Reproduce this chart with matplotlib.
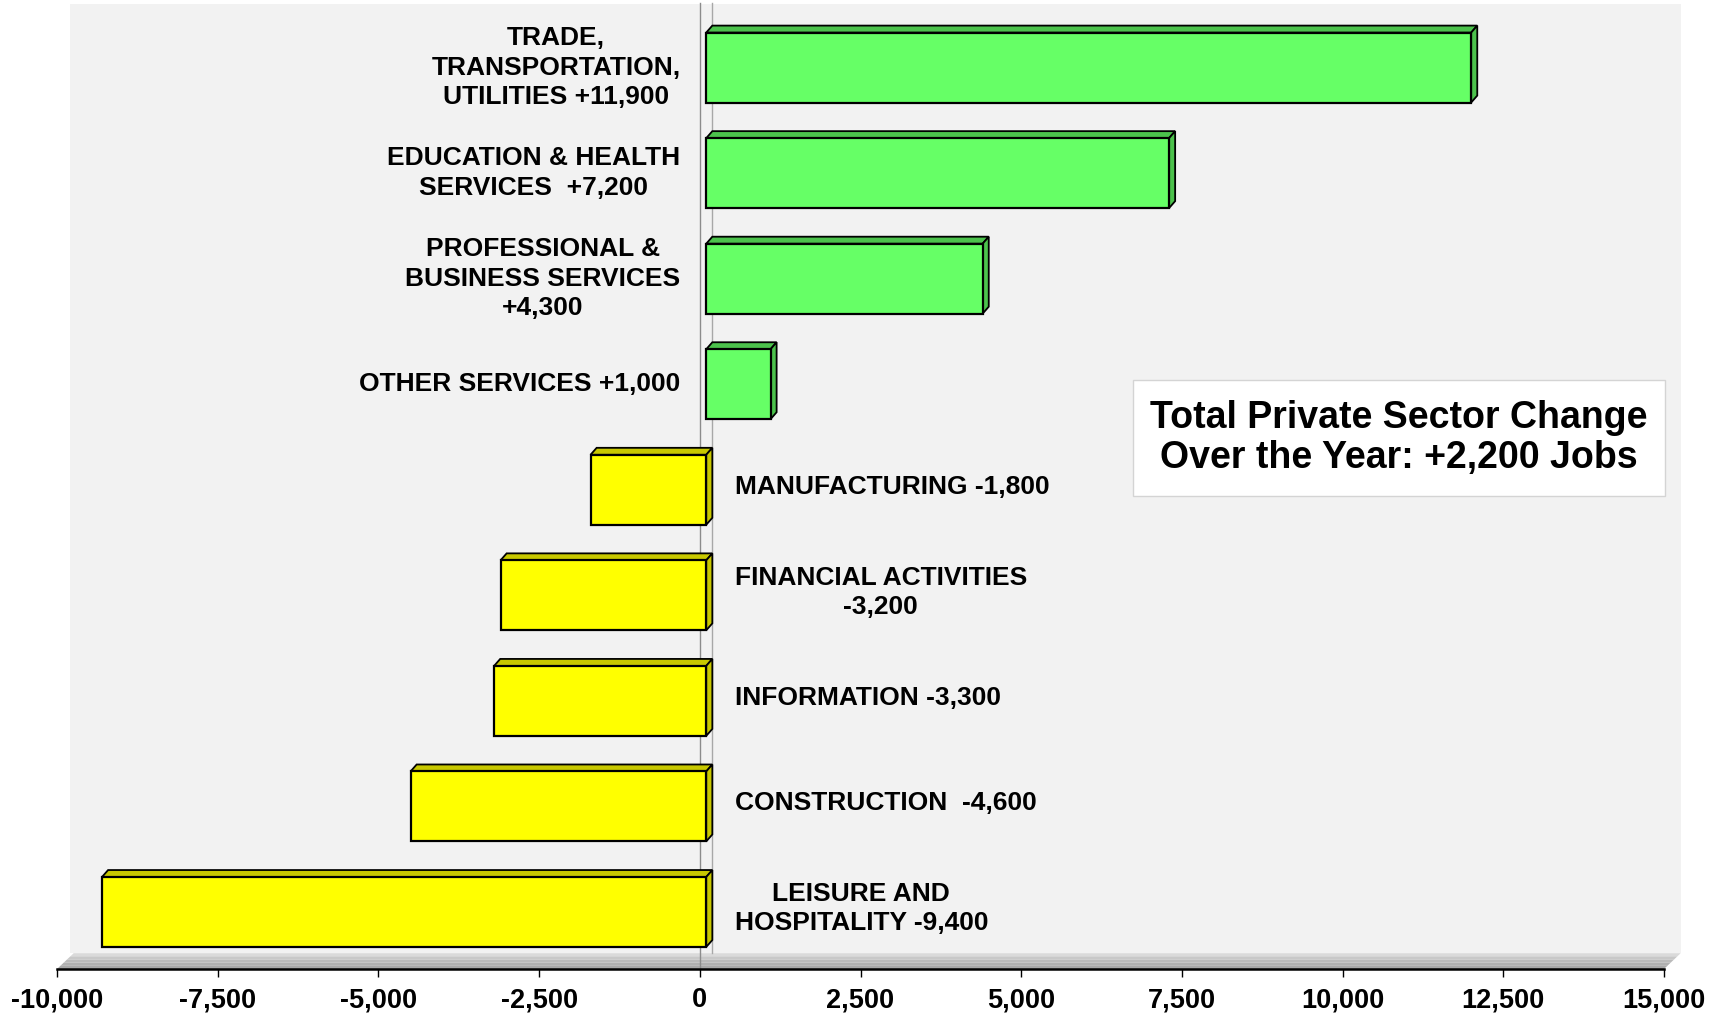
import matplotlib.pyplot as plt
from matplotlib.patches import Polygon, Rectangle
from matplotlib.ticker import FuncFormatter

# Over-the-year change in private sector jobs, top to bottom
sectors = [
    "TRADE,\nTRANSPORTATION,\nUTILITIES +11,900",
    "EDUCATION & HEALTH\nSERVICES  +7,200",
    "PROFESSIONAL &\nBUSINESS SERVICES\n+4,300",
    "OTHER SERVICES +1,000",
    "MANUFACTURING -1,800",
    "FINANCIAL ACTIVITIES\n-3,200",
    "INFORMATION -3,300",
    "CONSTRUCTION  -4,600",
    "LEISURE AND\nHOSPITALITY -9,400",
]
changes = [11900, 7200, 4300, 1000, -1800, -3200, -3300, -4600, -9400]
x_ticks = [-10000, -7500, -5000, -2500, 0, 2500, 5000, 7500, 10000, 12500, 15000]
total_note = "Total Private Sector Change\nOver the Year: +2,200 Jobs"

plt.rcParams["font.family"] = ["Liberation Sans", "DejaVu Sans"]
plt.rcParams["font.weight"] = "bold"

W, H = 1718, 1016
fig = plt.figure(figsize=(W / 100, H / 100), dpi=100)
fig.patch.set_facecolor("white")

# axes spans the x axis line exactly (-10,000 .. 15,000)
ax = fig.add_axes([57 / W, 47 / H, 1607 / W, 969 / H])
ax.set_facecolor("none")

ymin, ymax = -0.54, 8.64
ax.set_xlim(-10000, 15000)
ax.set_ylim(ymin, ymax)

# 3D look parameters (data units)
shift = 100       # front faces sit slightly right of zero
dx, dy = 95, 0.066  # depth of bar top/side faces
wall_dx, floor_h = 260, 0.15
bar_h = 0.663

# back wall
ax.add_patch(Rectangle((-10000 + wall_dx * 0.8, ymin + floor_h), 25000 + wall_dx * 0.2,
                       ymax - ymin - floor_h - 0.04, facecolor="#f2f2f2",
                       edgecolor="none", zorder=0, clip_on=False))

# floor: a few grey strips to fake the gradient
floor_cols = ["#dadada", "#c8c8c8", "#bababa", "#b0b0b0", "#a8a8a8"]
n = len(floor_cols)
for i, c in enumerate(floor_cols):
    f0 = 1 - i / n
    f1 = 1 - (i + 1) / n
    y0 = ymin + floor_h * f0
    y1 = ymin + floor_h * f1
    ax.add_patch(Polygon([(-10000 + wall_dx * f0, y0), (15000 + wall_dx * f0, y0),
                          (15000 + wall_dx * f1, y1), (-10000 + wall_dx * f1, y1)],
                         closed=True, facecolor=c, edgecolor="none",
                         zorder=0.5, clip_on=False))

# zero lines (front and back)
ax.plot([0, 0], [ymin, ymax - 0.03], color="#8c8c8c", lw=1, zorder=1, clip_on=False)
ax.plot([wall_dx * 0.75, wall_dx * 0.75], [ymin + floor_h, ymax - 0.03],
        color="#a8a8a8", lw=1, zorder=1, clip_on=False)

ypos = list(range(len(changes) - 1, -1, -1))
front = ["#66ff66" if v > 0 else "#ffff00" for v in changes]
shade = ["#4cc24c" if v > 0 else "#c8c800" for v in changes]

ax.barh(ypos, changes, left=shift, height=bar_h, color=front,
        edgecolor="black", linewidth=1.6, zorder=3)

for y, v, sc in zip(ypos, changes, shade):
    x0, x1 = min(0, v) + shift, max(0, v) + shift
    yt, yb = y + bar_h / 2, y - bar_h / 2
    ax.add_patch(Polygon([(x0, yt), (x0 + dx, yt + dy), (x1 + dx, yt + dy), (x1, yt)],
                         closed=True, facecolor=sc, edgecolor="black",
                         linewidth=1.3, zorder=2.5))
    ax.add_patch(Polygon([(x1, yt), (x1 + dx, yt + dy), (x1 + dx, yb + dy), (x1, yb)],
                         closed=True, facecolor=sc, edgecolor="black",
                         linewidth=1.3, zorder=2.5))

# category labels
for y, v, label in zip(ypos, changes, sectors):
    if v > 0:
        ax.text(-300, y, label, ha="right", va="center", multialignment="center",
                fontsize=19, fontweight="bold", linespacing=1.28, zorder=4)
    else:
        ax.text(540, y + 0.03, label, ha="left", va="center", multialignment="center",
                fontsize=19, fontweight="bold", linespacing=1.28, zorder=4)

# summary box
fig.add_artist(Rectangle((1133 / W, 1 - 496 / H), 532 / W, 116 / H,
                         transform=fig.transFigure, facecolor="white",
                         edgecolor="#d4d4d4", linewidth=1, zorder=5))
fig.text(1399 / W, 1 - 438 / H, total_note, ha="center", va="center",
         fontsize=27, fontweight="bold", linespacing=1.15, zorder=6)

# axes styling
for side in ["top", "right", "left"]:
    ax.spines[side].set_visible(False)
ax.spines["bottom"].set_linewidth(1.8)
ax.spines["bottom"].set_zorder(5)
ax.set_yticks([])
ax.set_xticks(x_ticks)
ax.xaxis.set_major_formatter(FuncFormatter(lambda v, p: f"{int(v):,}"))
ax.tick_params(axis="x", direction="out", length=6, width=1, pad=7,
               labelsize=19.5)
for lbl in ax.get_xticklabels():
    lbl.set_fontweight("bold")

fig.savefig("out.png", dpi=100)
